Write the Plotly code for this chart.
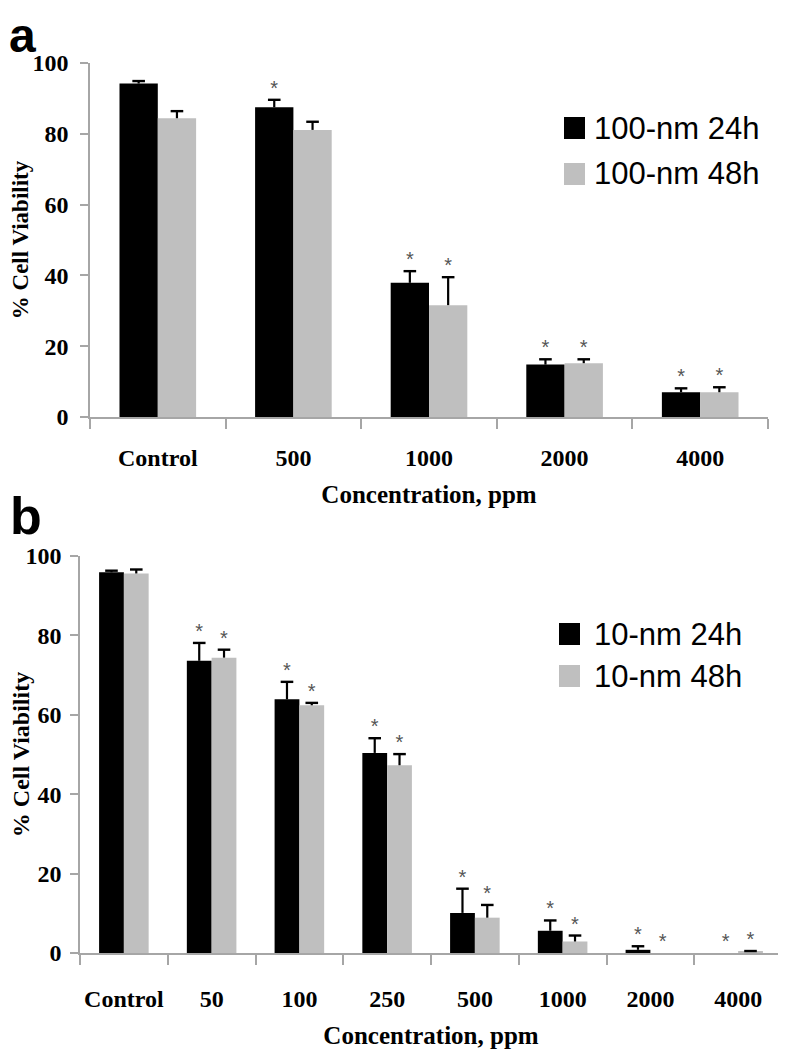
import plotly.graph_objects as go

# ---------------- data ----------------
cats_a = ["Control", "500", "1000", "2000", "4000"]
a_24 = [94.2, 87.5, 37.9, 14.8, 7.0]
a_24_err = [0.7, 2.1, 3.3, 1.5, 1.1]
a_48 = [84.4, 81.1, 31.6, 15.2, 7.0]
a_48_err = [2.0, 2.3, 7.9, 1.1, 1.4]
a_24_sig = ["", "*", "*", "*", "*"]
a_48_sig = ["", "", "*", "*", "*"]

cats_b = ["Control", "50", "100", "250", "500", "1000", "2000", "4000"]
b_24 = [95.9, 73.6, 63.9, 50.4, 10.1, 5.6, 0.8, 0.0]
b_24_err = [0.4, 4.5, 4.4, 3.7, 6.1, 2.6, 0.9, 0.0]
b_48 = [95.6, 74.4, 62.4, 47.3, 8.9, 2.9, 0.0, 0.3]
b_48_err = [1.0, 2.0, 0.6, 2.8, 3.2, 1.5, 0.0, 0.2]
b_24_sig = ["", "*", "*", "*", "*", "*", "*", "*"]
b_48_sig = ["", "*", "*", "*", "*", "*", "*", "*"]

legend_a = ["100-nm 24h", "100-nm 48h"]
legend_b = ["10-nm 24h", "10-nm 48h"]
y_ticks = [0, 20, 40, 60, 80, 100]

# ---------------- style ----------------
W, H = 786, 1054
OFF = 8  # page body margin in the browser
BLACK = "#000000"
GRAY = "#bfbfbf"
AXIS = "#a6a6a6"
STAR = "#555555"
SERIF = "Liberation Serif, Times New Roman, serif"
SANS = "Liberation Sans, Arial, sans-serif"


def px_x(p):
    return (p - OFF) / W


def px_y(p):
    return 1 - (p - OFF) / H


fig = go.Figure()


def add_panel(cats, v24, e24, v48, e48, s24, s48, names, xa, ya):
    for vals, errs, sig, col, grp, name in [
        (v24, e24, s24, BLACK, "g1", names[0]),
        (v48, e48, s48, GRAY, "g2", names[1]),
    ]:
        tops = [v + e for v, e in zip(vals, errs)]
        fig.add_trace(go.Bar(
            x=cats, y=vals, name=name, marker=dict(color=col, line=dict(width=0)),
            offsetgroup=grp, xaxis=xa, yaxis=ya, showlegend=False,
        ))
        # upward-only error bars: stem (no caps) + cap marker at the top
        fig.add_trace(go.Scatter(
            x=cats, y=[t if e > 0 else None for t, e in zip(tops, errs)],
            mode="markers",
            marker=dict(symbol="line-ew", size=9, line=dict(width=2.4, color=BLACK)),
            error_y=dict(type="data", symmetric=False, array=[0] * len(errs), arrayminus=errs,
                         color=BLACK, thickness=2.2, width=0),
            offsetgroup=grp, xaxis=xa, yaxis=ya, showlegend=False,
            hoverinfo="skip", cliponaxis=False,
        ))
        # significance stars
        fig.add_trace(go.Scatter(
            x=cats, y=tops, text=sig,
            mode="text", textposition="top center",
            textfont=dict(family=SANS, size=20, color=STAR),
            offsetgroup=grp, xaxis=xa, yaxis=ya, showlegend=False,
            hoverinfo="skip", cliponaxis=False,
        ))


add_panel(cats_a, a_24, a_24_err, a_48, a_48_err, a_24_sig, a_48_sig, legend_a, "x", "y")
add_panel(cats_b, b_24, b_24_err, b_48, b_48_err, b_24_sig, b_48_sig, legend_b, "x2", "y2")

BOLD_SERIF = dict(family=SERIF, size=24, color=BLACK, weight="bold")

xaxis_common = dict(
    type="category", showline=True, linecolor=AXIS, linewidth=1.5,
    ticks="outside", tickson="boundaries", ticklen=10, tickcolor=AXIS, tickwidth=1.5,
    tickfont=BOLD_SERIF, tickangle=0,
    showgrid=False, zeroline=False, automargin=False,
)
yaxis_common = dict(
    range=[0, 100], tickvals=y_ticks, showline=True, linecolor=AXIS, linewidth=1.5,
    ticks="outside", ticklen=8, tickcolor=AXIS, tickwidth=1.5,
    tickfont=BOLD_SERIF,
    showgrid=False, zeroline=False, automargin=False,
)

fig.update_layout(
    width=W, height=H, margin=dict(l=0, r=0, t=0, b=0),
    paper_bgcolor="white", plot_bgcolor="white",
    barmode="group", bargap=0.435, bargroupgap=0,
    scattermode="group", scattergap=0.435,
    showlegend=False,
    xaxis=dict(xaxis_common, domain=[px_x(90), px_x(768)], anchor="y", ticklabelstandoff=18,
               title=dict(text="Concentration, ppm",
                          font=dict(family=SERIF, size=25, color=BLACK, weight="bold"), standoff=16)),
    yaxis=dict(yaxis_common, domain=[px_y(417), px_y(63)], anchor="x", ticklabelstandoff=7,
               title=dict(text="% Cell Viability",
                          font=dict(family=SERIF, size=23, color=BLACK, weight="bold"), standoff=5)),
    xaxis2=dict(xaxis_common, domain=[px_x(80), px_x(782)], anchor="y2", ticklabelstandoff=23,
                title=dict(text="Concentration, ppm",
                           font=dict(family=SERIF, size=25, color=BLACK, weight="bold"), standoff=16)),
    yaxis2=dict(yaxis_common, domain=[px_y(953), px_y(556)], anchor="x2", ticklabelstandoff=4,
                title=dict(text="% Cell Viability",
                           font=dict(family=SERIF, size=24, color=BLACK, weight="bold"), standoff=12)),
)

# manual legends (large square swatches)
shapes = []
annotations = []
for names, sq_x, rows in [
    (legend_a, 564, [128, 174]),
    (legend_b, 559, [634, 676]),
]:
    for name, col, cy in zip(names, [BLACK, GRAY], rows):
        shapes.append(dict(type="rect", xref="paper", yref="paper",
                           x0=px_x(sq_x), x1=px_x(sq_x + 21), y0=px_y(cy + 11), y1=px_y(cy - 11),
                           fillcolor=col, line=dict(width=0)))
        annotations.append(dict(text=name, xref="paper", yref="paper", x=px_x(592), y=px_y(cy),
                                xanchor="left", yanchor="middle", showarrow=False,
                                font=dict(family=SANS, size=31, color=BLACK)))

# panel letters
annotations.append(dict(text="<b>a</b>", xref="paper", yref="paper", x=px_x(8), y=1,
                        xanchor="left", yanchor="top", showarrow=False, borderpad=0,
                        font=dict(family=SANS, size=48, color=BLACK)))
annotations.append(dict(text="<b>b</b>", xref="paper", yref="paper", x=px_x(8), y=px_y(516),
                        xanchor="left", yanchor="middle", showarrow=False,
                        font=dict(family=SANS, size=52, color=BLACK)))

fig.update_layout(shapes=shapes, annotations=annotations)
fig.write_html("out.html")
